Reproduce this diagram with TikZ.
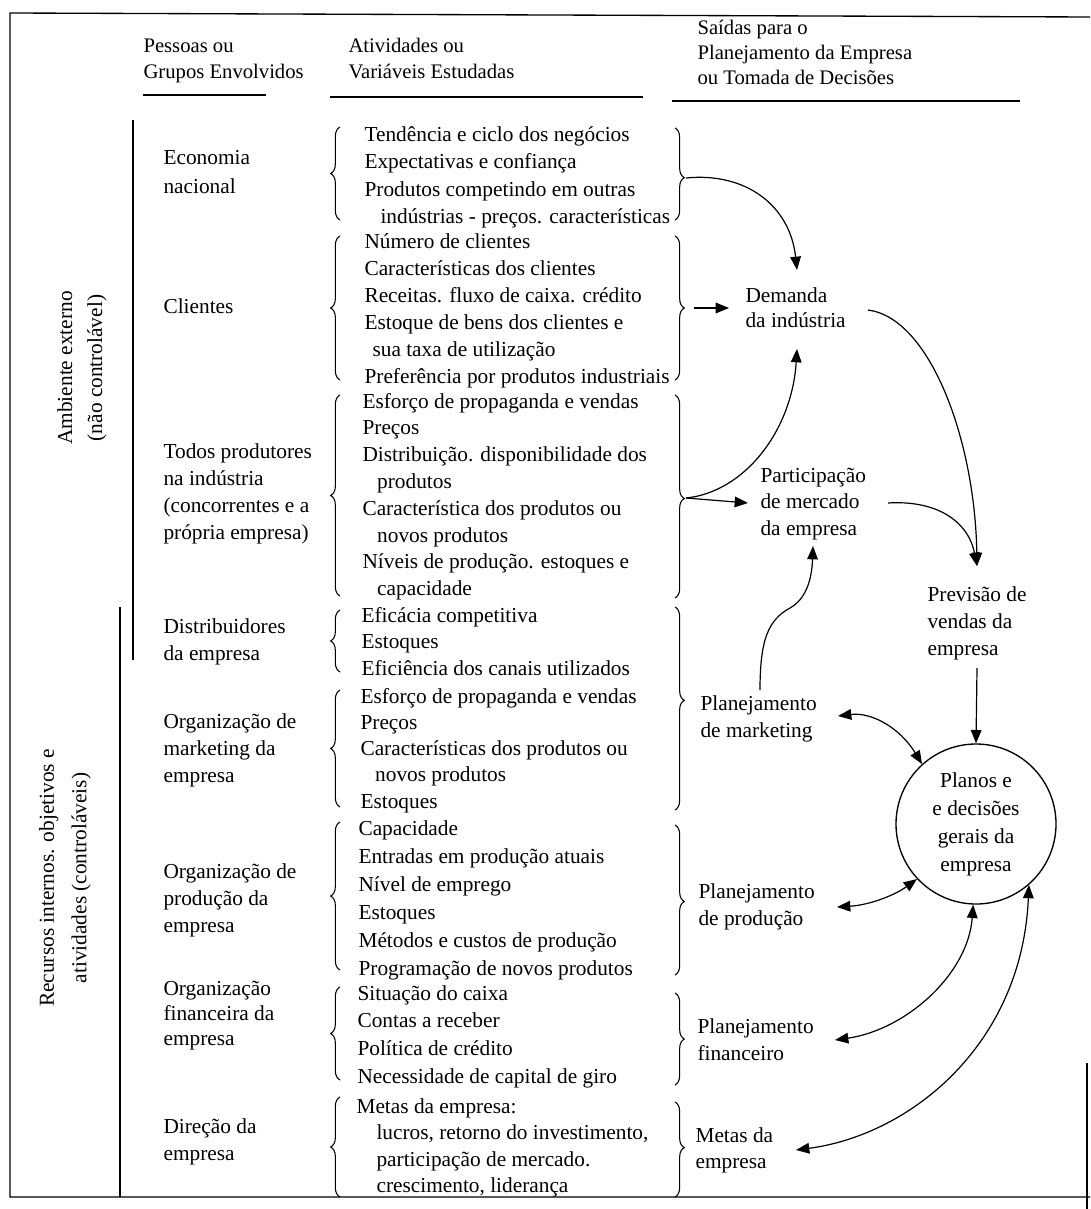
\documentclass[tikz,border=0pt]{standalone}
\usepackage{fontspec}
\setmainfont{Liberation Serif}
\usetikzlibrary{decorations.pathreplacing, arrows.meta}

% one text node per printed line, baselines spaced by a fixed pitch
\newcommand\itemrows[5]{%
  \foreach \lin [count=\i from 0] in {#5} {\node[itm] (#1-\i) at (#2,{#3+#4*\i}) {\lin};}}

\begin{document}
\begin{tikzpicture}[x=0.75pt, y=-0.75pt, line width=0.8pt,
  itm/.style={inner sep=0pt, anchor=base west, font=\fontsize{16}{19}\selectfont},
  hdr/.style={inner sep=0pt, anchor=base west, font=\fontsize{15.5}{19}\selectfont},
  side/.style={inner sep=0pt, rotate=90, align=center, font=\fontsize{16}{#1}\selectfont},
  lbrace/.style={decorate, decoration={brace, amplitude=7pt, aspect=#1}},
  lbrace/.default=0.5,
  tipA/.style={-{Triangle[length=10pt, width=8pt]}, line width=0.9pt},
  tipAB/.style={{Triangle[length=10pt, width=8pt]}-{Triangle[length=10pt, width=8pt]}, line width=0.9pt},
  hub/.style={draw, circle, line width=1pt, minimum size=120pt, inner sep=0pt,
    align=center, font=\fontsize{16}{21}\selectfont}]

\useasboundingbox (0,0) rectangle (1090,1209);

% ---------- frame and column rules ----------
\draw[line width=1pt] (1090,17) -- (10,13) -- (10,1197) -- (1090,1197);
\draw[line width=1pt] (1087,1063) -- (1087,1209);
\draw (133,120) -- (133,660);
\draw (120,607) -- (120,1197);

% ---------- headings ----------
\node[hdr] (h1a) at (143,53) {Pessoas ou};
\node[hdr] (h1b) at (143,79) {Grupos Envolvidos};
\node[hdr] (h2a) at (348,53) {Atividades ou};
\node[hdr] (h2b) at (348,79) {Variáveis Estudadas};
\node[hdr] (h3a) at (697,35) {Saídas para o};
\node[hdr] (h3b) at (697,60) {Planejamento da Empresa};
\node[hdr] (h3c) at (697,85) {ou Tomada de Decisões};
\draw (143,95) -- (266,95);
\draw (330,97) -- (643,97);
\draw (672,101) -- (1020,101);

% ---------- side labels ----------
\node[side=22.5pt] (amb) at (82,368) {Ambiente externo\\(não controlável)};
\node[side=24.5pt] (rec) at (65,878) {Recursos internos. objetivos e\\atividades (controláveis)};

% ---------- people / groups ----------
\node[itm] (g1a) at (163,165) {Economia};
\node[itm] (g1b) at (163,193) {nacional};
\node[itm] (g2a) at (163,313) {Clientes};
\itemrows{g3}{163}{458}{27}{Todos produtores, na indústria, {(concorrentes e a}, {própria empresa)}}
\itemrows{g4}{163}{633}{27}{Distribuidores, da empresa}
\itemrows{g5}{163}{728}{27}{Organização de, marketing da, empresa}
\itemrows{g6}{163}{878}{27}{Organização de, produção da, empresa}
\itemrows{g7}{163}{995}{25}{Organização, financeira da, empresa}
\itemrows{g8}{163}{1133}{27}{Direção da, empresa}

% ---------- activities / variables ----------
\itemrows{r1}{364}{142}{27}{Tendência e ciclo dos negócios, Expectativas e confiança,
  Produtos competindo em outras, {\hspace*{12pt}indústrias - preços. características}}
\itemrows{r2}{364}{248}{27}{Número de clientes, Características dos clientes,
  {Receitas. fluxo de caixa. crédito}, Estoque de bens dos clientes e,
  \hspace*{6pt}sua taxa de utilização, Preferência por produtos industriais}
\itemrows{r3}{362}{408}{26.8}{Esforço de propaganda e vendas, Preços,
  {Distribuição. disponibilidade dos}, \hspace*{11pt}produtos,
  Característica dos produtos ou, \hspace*{11pt}novos produtos,
  {Níveis de produção. estoques e}, \hspace*{11pt}capacidade}
\itemrows{r4}{361}{622}{26.5}{Eficácia competitiva, Estoques, Eficiência dos canais utilizados}
\itemrows{r5}{360}{703}{26.3}{Esforço de propaganda e vendas, Preços,
  Características dos produtos ou, \hspace*{11pt}novos produtos, Estoques}
\itemrows{r6}{358}{835}{28}{Capacidade, Entradas em produção atuais, Nível de emprego,
  Estoques, Métodos e custos de produção, Programação de novos produtos}
\itemrows{r7}{357}{1000}{27.7}{Situação do caixa, Contas a receber, Política de crédito,
  Necessidade de capital de giro}
\itemrows{r8}{356}{1113}{26.5}{Metas da empresa:, {\hspace*{15pt}lucros, retorno do investimento,},
  {\hspace*{15pt}participação de mercado.}, {\hspace*{15pt}crescimento, liderança}}

% ---------- braces around each group of variables ----------
\draw[lbrace] (340,220) -- (340,127);
\draw[lbrace] (340,380) -- (340,236);
\draw[lbrace] (340,596) -- (340,395);
\draw[lbrace] (340,672) -- (340,610);
\draw[lbrace] (340,807) -- (340,690);
\draw[lbrace] (340,970) -- (340,822);
\draw[lbrace] (340,1080) -- (340,987);
\draw[lbrace] (340,1197) -- (340,1097);

\draw[lbrace=0.54] (675,128) -- (675,220);
\draw[lbrace] (675,236) -- (675,380);
\draw[lbrace=0.51] (675,395) -- (675,598);
\draw[lbrace=0.46] (675,607) -- (675,810);
\draw[lbrace=0.51] (675,825) -- (675,975);
\draw[lbrace=0.5] (675,993) -- (675,1085);
\draw[lbrace=0.48] (675,1102) -- (675,1197);

\coordinate (tE) at (686,178);
\coordinate (tC) at (694,308);
\coordinate (tT) at (686,498);

% ---------- outputs ----------
\itemrows{dem}{745}{302}{25}{Demanda, da indústria}
\itemrows{par}{760}{482}{26.5}{Participação, de mercado, da empresa}
\itemrows{prev}{927}{601}{27}{Previsão de, vendas da, empresa}
\itemrows{pm}{700}{710}{27}{Planejamento, de marketing}
\itemrows{pp}{698}{898}{27}{Planejamento, de produção}
\itemrows{pf}{697}{1033}{27}{Planejamento, financeiro}
\itemrows{pg}{695}{1142}{26}{Metas da, empresa}

\node[hub] (plan) at (976,824) {Planos e\\e decisões\\gerais da\\empresa};

% arrow end points beside the output labels
\coordinate (demTop) at (797,270);
\coordinate (demLeft) at (729,308);
\coordinate (demBot) at (797,349);
\coordinate (demRight) at (868,310);
\coordinate (parLeft) at (748,503);
\coordinate (parRight) at (888,503);
\coordinate (parBot) at (813,546);
\coordinate (prevTop) at (977,566);
\coordinate (prevBot) at (977,668);
\coordinate (pmTop) at (760,690);
\coordinate (pmRight) at (838,716);
\coordinate (ppRight) at (837,907);
\coordinate (pfRight) at (835,1040);
\coordinate (pgRight) at (796,1150);

% ---------- connectors ----------
\draw[tipA] (tE) .. controls (745,172) and (790,205) .. (demTop);
\draw[tipA] (tC) -- (demLeft);
\draw[tipA] (tT) .. controls (745,492) and (792,430) .. (demBot);
\draw[tipA] (tT) -- (parLeft);
\draw[tipA] (demRight) .. controls (930,318) and (975,440) .. (prevTop);
\draw[tipA] (parRight) .. controls (935,500) and (968,520) .. (prevTop);
\draw[tipA] (pmTop) .. controls (760,640) and (768,620) .. (790,608)
  .. controls (808,598) and (812,575) .. (parBot);
\draw[tipA] (prevBot) -- (plan.north);
\draw[tipAB] (pmRight) .. controls (872,712) and (900,728) .. (plan.132);
\draw[tipAB] (ppRight) .. controls (870,905) and (895,895) .. (plan.223);
\draw[tipAB] (pfRight) .. controls (905,1030) and (968,975) .. (plan.268);
\draw[tipAB] (pgRight) .. controls (910,1135) and (1022,1045) .. (plan.311);

\end{tikzpicture}
\end{document}
